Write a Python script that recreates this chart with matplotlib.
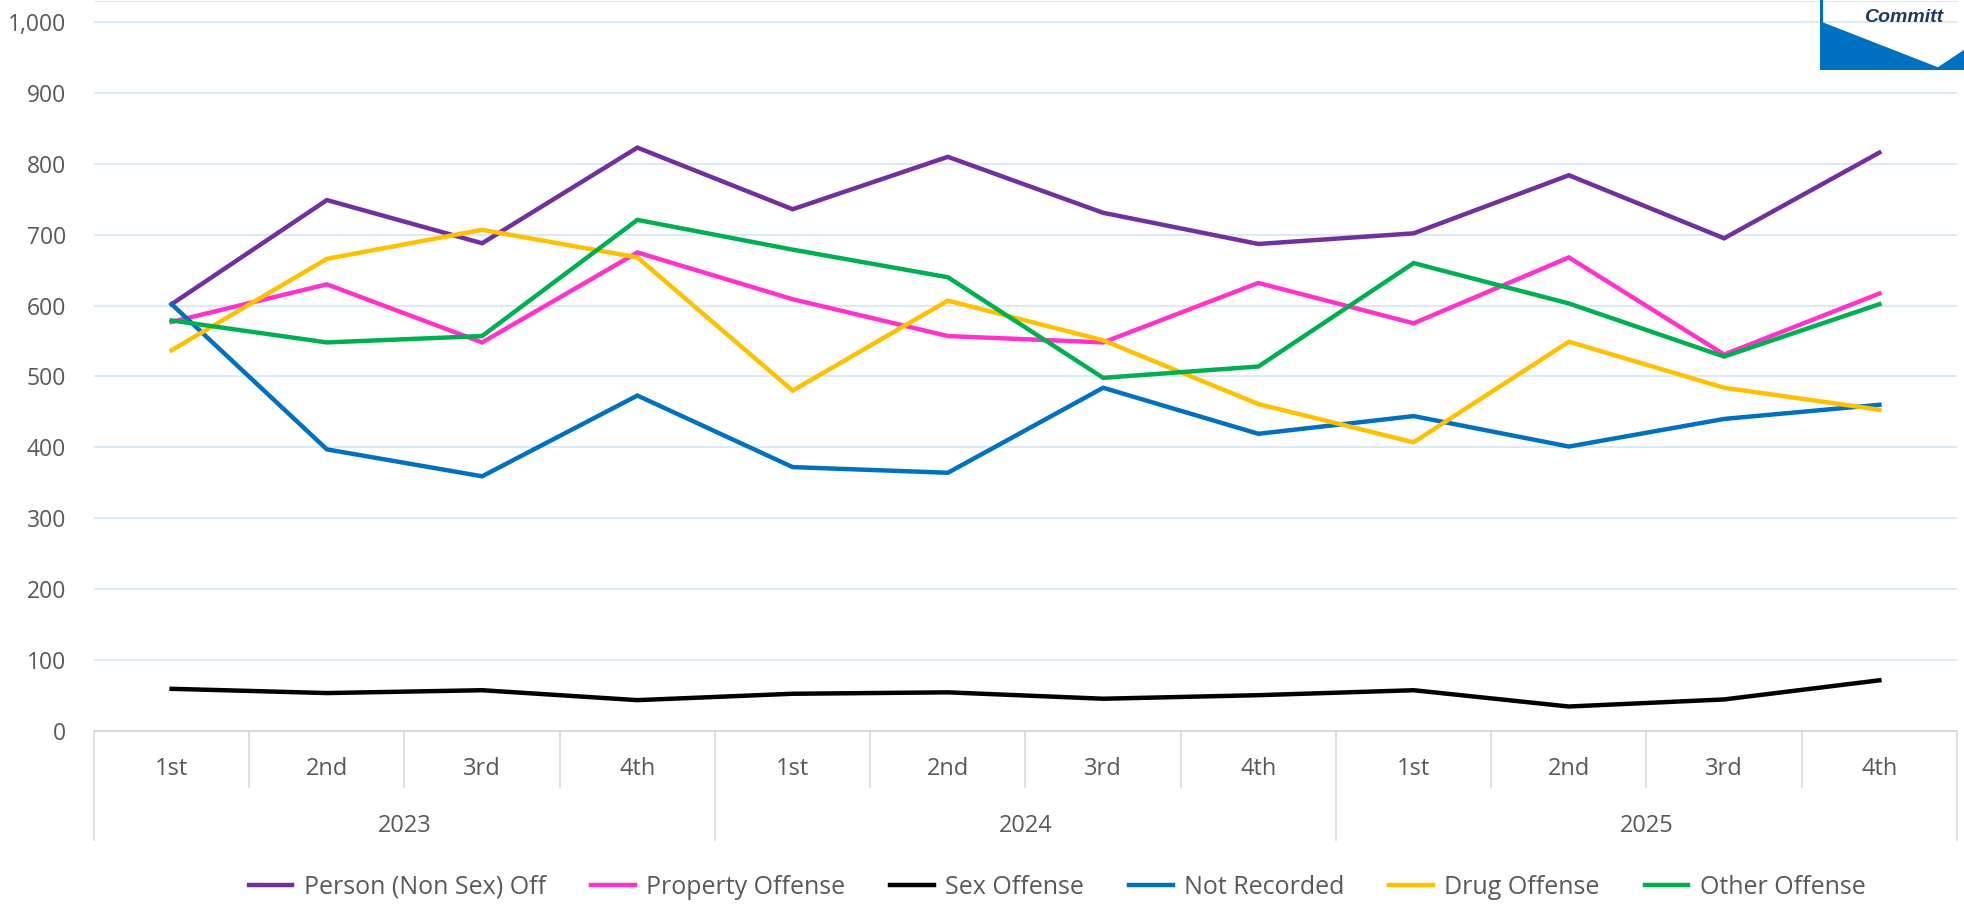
import numpy as np
import matplotlib
matplotlib.use("Agg")
import matplotlib.pyplot as plt
from matplotlib.patches import Polygon

plt.rcParams['font.family'] = ['Open Sans', 'DejaVu Sans']

quarters = ["1st", "2nd", "3rd", "4th"] * 3
years = ["2023", "2024", "2025"]

person = [602, 749, 688, 823, 736, 810, 731, 687, 702, 784, 695, 816]
property_ = [577, 630, 548, 675, 609, 557, 548, 632, 575, 668, 531, 617]
sex = [59, 53, 57, 43, 52, 54, 45, 50, 57, 34, 44, 71]
not_recorded = [602, 397, 359, 473, 372, 364, 484, 419, 444, 401, 440, 460]
drug = [537, 666, 707, 668, 480, 607, 551, 461, 407, 549, 484, 453]
other = [579, 548, 557, 721, 679, 640, 498, 514, 660, 603, 528, 602]

series = [
    ("Person (Non Sex) Off", person, "#7030A0"),
    ("Property Offense", property_, "#FF33CC"),
    ("Sex Offense", sex, "#000000"),
    ("Not Recorded", not_recorded, "#0070C0"),
    ("Drug Offense", drug, "#FFC000"),
    ("Other Offense", other, "#00B050"),
]

W, H = 1965, 914
fig = plt.figure(figsize=(W / 100, H / 100), dpi=100)
ax = fig.add_axes([94 / W, 1 - 730.6 / H, (1957 - 94) / W, 729.6 / H])

x = np.arange(len(quarters))
for name, vals, col in series:
    ax.plot(x, vals, color=col, lw=3.2, label=name, solid_joinstyle='miter')

grid_col = "#D8E8F5"
txt_col = "#595959"
sep_col = "#D9D9D9"

ax.set_xlim(-0.5, 11.5)
ax.set_ylim(0, 1030)
ax.set_yticks(range(0, 1001, 100))
ax.set_yticklabels([f"{v:,}" for v in range(0, 1001, 100)])
ax.yaxis.grid(True, color=grid_col, lw=1.3)
ax.set_axisbelow(True)
for s in ["left", "right"]:
    ax.spines[s].set_visible(False)
ax.spines["top"].set_color(grid_col)
ax.spines["bottom"].set_color(sep_col)
ax.spines["bottom"].set_linewidth(1.3)
ax.tick_params(axis="y", length=0, pad=20, labelsize=16.5, labelcolor=txt_col)
ax.set_xticks([])

# category axis: quarters and years
tr = ax.get_xaxis_transform()
for i, q in enumerate(quarters):
    ax.text(i, -0.0526, q, transform=tr, ha="center", va="center",
            fontsize=17, color=txt_col)
for j, yr in enumerate(years):
    ax.text(4 * j + 1.5, -0.131, yr, transform=tr, ha="center", va="center",
            fontsize=17, color=txt_col)
for k in range(13):
    xs = k - 0.5
    y_end = -0.150 if k % 4 == 0 else -0.0773
    ax.plot([xs, xs], [0, y_end], transform=tr, color=sep_col, lw=1.2,
            clip_on=False)

fig.legend(loc="center", bbox_to_anchor=(1057 / W, 1 - 887 / H), ncol=6,
           frameon=False, fontsize=18, handlelength=1.75, handletextpad=0.45,
           columnspacing=1.8, labelcolor=txt_col)

# logo fragment in the top right corner
lax = fig.add_axes([1820 / W, 1 - 70 / H, 145 / W, 70 / H])
lax.set_xlim(0, 145)
lax.set_ylim(70, 0)
lax.axis("off")
lax.add_patch(Polygon([(0, 22), (118, 68), (145, 50), (145, 70), (0, 70)],
                      closed=True, color="#0070C0"))
lax.plot([1.5, 1.5], [0, 70], color="#0070C0", lw=3)
lax.text(44, 18, "Committ", fontsize=14, fontstyle="italic", fontweight="bold",
         color="#1F3864", ha="left", va="center", family=["Liberation Sans"])

fig.savefig("out.png", dpi=100)
